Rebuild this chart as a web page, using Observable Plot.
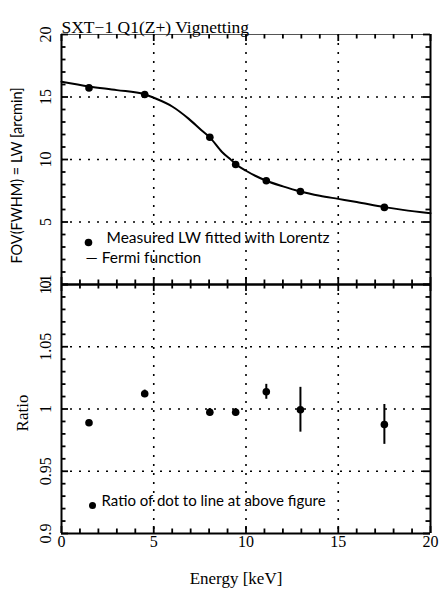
<!DOCTYPE html>
<html><head><meta charset="utf-8">
<script src="https://cdn.jsdelivr.net/npm/d3@7"></script>
<script src="https://cdn.jsdelivr.net/npm/@observablehq/plot@0.6"></script>
<style>
body{margin:0;background:#fff;}
#wrap{position:relative;width:441px;height:594px;overflow:hidden;}
#wrap svg{position:absolute;left:0;}
</style>
</head><body><div id="wrap"></div>
<script>
// ---- data ----
const energy = [1.49, 4.51, 8.04, 9.44, 11.1, 12.95, 17.5];
const lw = [15.73, 15.2, 11.78, 9.6, 8.3, 7.44, 6.17];
const curveE = [0, 1.5, 3, 4.5, 5, 6, 6.9, 7.6, 8.05, 8.7, 9.2, 9.45, 10, 10.5, 11.1, 12, 12.95, 14, 15, 16, 17.5, 18.5, 20];
const curveLW = [16.22, 15.84, 15.55, 15.22, 14.94, 14.24, 13.25, 12.32, 11.75, 10.6, 9.95, 9.62, 9.1, 8.7, 8.3, 7.85, 7.44, 7.1, 6.85, 6.6, 6.19, 5.97, 5.7];
const ratio = [0.989, 1.0122, 0.9974, 0.9974, 1.0138, 0.9994, 0.9876];
const ratioErr = [0.001, 0.003, 0.003, 0.003, 0.006, 0.018, 0.016];
const xTicks = [0, 5, 10, 15, 20];
const xMinor = d3.range(0, 21, 1);
const topYTicks = [0, 5, 10, 15, 20];
const topYMinor = d3.range(0, 21, 1);
const botYTicks = [0.9, 0.95, 1, 1.05, 1.1];
const botYTickLabels = ["0.9", "0.95", "1", "1.05", "1.1"];
const botYMinor = d3.range(0, 21, 1).map(i => 0.9 + i * 0.01);
const topGridY = [5, 10, 15];
const botGridY = [0.95, 1, 1.05];
const gridX = [5, 10, 15];

const W = 441, ML = 61, MR = 11;
const PW = W - ML - MR;
const serif = "Liberation Serif, Times New Roman, serif";
const sans = "Lato, Open Sans, sans-serif";
const dotted = {stroke: "black", strokeWidth: 1.6, strokeDasharray: "2,7"};
const XD = [0, 20];

// inward ticks on all four sides; tick lengths are pixel lengths converted to data units
function tickMarks(yDomain, yMaj, yMin, PH) {
  const isMaj = (arr, v) => arr.some(a => Math.abs(a - v) < 1e-9);
  const pxY = (yDomain[1] - yDomain[0]) / PH;
  const pxX = (XD[1] - XD[0]) / PW;
  const xs = xMinor.map(v => ({v, L: isMaj(xTicks, v) ? 7 : 4.5}));
  const ys = yMin.map(v => ({v, L: isMaj(yMaj, v) ? 7 : 4.5}));
  const st = {stroke: "black", strokeWidth: 1.8};
  return [
    Plot.ruleX(xs, {x: "v", y1: yDomain[0], y2: d => yDomain[0] + d.L * pxY, ...st}),
    Plot.ruleX(xs, {x: "v", y1: yDomain[1], y2: d => yDomain[1] - d.L * pxY, ...st}),
    Plot.ruleY(ys, {y: "v", x1: XD[0], x2: d => XD[0] + d.L * pxX, ...st}),
    Plot.ruleY(ys, {y: "v", x1: XD[1], x2: d => XD[1] - d.L * pxX, ...st})
  ];
}

// ---- top panel ----
const curve = curveE.map((e, i) => ({e, v: curveLW[i]}));
const pts = energy.map((e, i) => ({e, v: lw[i]}));
const TH = 284, TMT = 34;
const TYD = [0, 20];
const topPlot = Plot.plot({
  width: W, height: TH, marginTop: TMT, marginBottom: 0, marginLeft: ML, marginRight: MR,
  x: {domain: XD, axis: null},
  y: {domain: TYD, axis: null},
  style: {background: "transparent", overflow: "visible", fontFamily: serif},
  marks: [
    Plot.ruleX(gridX, {x: d => d, ...dotted}),
    Plot.ruleY(topGridY, {y: d => d, ...dotted}),
    Plot.ruleY([20], {y: d => d, stroke: "#555", strokeWidth: 1}),
    Plot.ruleY([0], {y: d => d, stroke: "black", strokeWidth: 2}),
    Plot.ruleX([0, 20], {x: d => d, stroke: "black", strokeWidth: 2}),
    ...tickMarks(TYD, topYTicks, topYMinor, TH - TMT),
    Plot.line(curve, {x: "e", y: "v", curve: "monotone-x", stroke: "black", strokeWidth: 2}),
    Plot.dot(pts, {x: "e", y: "v", r: 3.8, fill: "black"}),
    Plot.text(topYTicks, {y: d => d, text: d => String(d), frameAnchor: "left", textAnchor: "middle", lineAnchor: "middle", dx: -16, rotate: -90, fontSize: 16, fill: "black"}),
    Plot.text(["FOV(FWHM) = LW [arcmin]"], {text: d => d, frameAnchor: "left", textAnchor: "middle", lineAnchor: "middle", dx: -44, dy: 16, rotate: -90, fontSize: 14.5, fontFamily: sans, fill: "black"}),
    Plot.text(["SXT\u22121 Q1(Z+) Vignetting"], {text: d => d, frameAnchor: "top-left", dy: -14, textAnchor: "start", fontSize: 17.5, fill: "black"}),
    Plot.dot([0], {frameAnchor: "bottom-left", dx: 27, dy: -42, r: 3.8, fill: "black"}),
    Plot.text(["Measured LW fitted with Lorentz"], {text: d => d, frameAnchor: "bottom-left", dx: 45, dy: -42, textAnchor: "start", fontSize: 15.5, fontFamily: sans, fill: "black"}),
    Plot.text(["\u2014 Fermi function"], {text: d => d, frameAnchor: "bottom-left", dx: 24, dy: -22, textAnchor: "start", fontSize: 15.5, fontFamily: sans, fill: "black"})
  ]
});
topPlot.style.top = "0px";

// ---- bottom panel ----
const rpts = energy.map((e, i) => ({e, v: ratio[i], lo: ratio[i] - ratioErr[i], hi: ratio[i] + ratioErr[i]}));
const BH = 310, BMB = 61;
const BYD = [0.9, 1.1];
const botPlot = Plot.plot({
  width: W, height: BH, marginTop: 0, marginBottom: BMB, marginLeft: ML, marginRight: MR,
  x: {domain: XD, axis: null},
  y: {domain: BYD, axis: null},
  style: {background: "transparent", overflow: "visible", fontFamily: serif},
  marks: [
    Plot.ruleX(gridX, {x: d => d, ...dotted}),
    Plot.ruleY(botGridY, {y: d => d, ...dotted}),
    Plot.ruleY([0.9, 1.1], {y: d => d, stroke: "black", strokeWidth: 2}),
    Plot.ruleX([0, 20], {x: d => d, stroke: "black", strokeWidth: 2}),
    ...tickMarks(BYD, botYTicks, botYMinor, BH - BMB),
    Plot.ruleX(rpts, {x: "e", y1: "lo", y2: "hi", stroke: "black", strokeWidth: 2}),
    Plot.dot(rpts, {x: "e", y: "v", r: 3.8, fill: "black"}),
    Plot.text(botYTicks, {y: d => d, text: (d, i) => botYTickLabels[i], frameAnchor: "left", textAnchor: "middle", lineAnchor: "middle", dx: -16, rotate: -90, fontSize: 16, fill: "black"}),
    Plot.text(["Ratio"], {text: d => d, frameAnchor: "left", textAnchor: "middle", lineAnchor: "middle", dx: -39, dy: 4, rotate: -90, fontSize: 17, fill: "black"}),
    Plot.text(xTicks, {x: d => d, text: d => String(d), frameAnchor: "bottom", dy: 13, fontSize: 16, fill: "black"}),
    Plot.text(["Energy [keV]"], {text: d => d, frameAnchor: "bottom", dx: -10, dy: 50, fontSize: 17, fill: "black"}),
    Plot.dot([0], {frameAnchor: "bottom-left", dx: 31, dy: -28, r: 3.5, fill: "black"}),
    Plot.text(["Ratio of dot to line at above figure"], {text: d => d, frameAnchor: "bottom-left", dx: 40, dy: -28, textAnchor: "start", fontSize: 15, fontFamily: sans, fill: "black"})
  ]
});
botPlot.style.top = TH + "px";

const wrap = document.getElementById("wrap");
wrap.appendChild(botPlot);
wrap.appendChild(topPlot);
</script>
</body></html>
